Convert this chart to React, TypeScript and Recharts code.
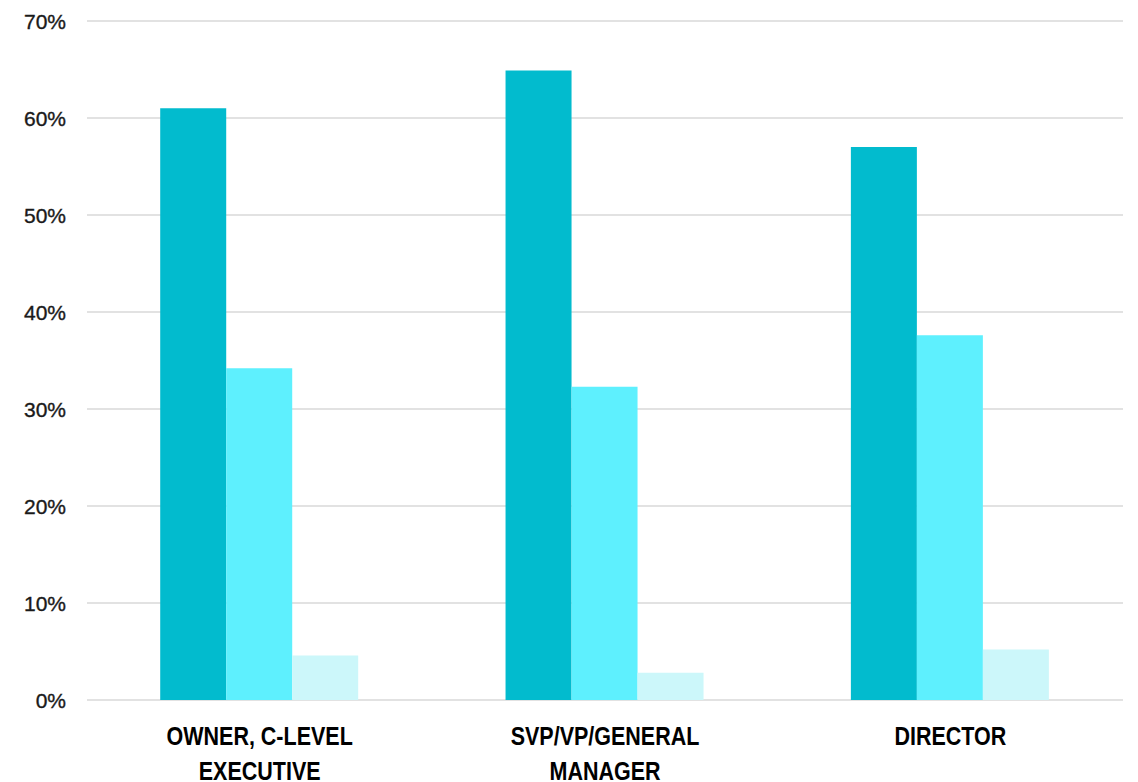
import { BarChart, Bar, XAxis, YAxis, CartesianGrid } from 'recharts'

const categories = ['OWNER, C-LEVEL\nEXECUTIVE', 'SVP/VP/GENERAL\nMANAGER', 'DIRECTOR']
const seriesA = [61, 64.9, 57]
const seriesB = [34.2, 32.3, 37.6]
const seriesC = [4.6, 2.8, 5.2]
const yTicks = [0, 10, 20, 30, 40, 50, 60, 70]

const data = categories.map((name, i) => ({
  name,
  a: seriesA[i],
  b: seriesB[i],
  c: seriesC[i],
}))

// condensed bold look: squeeze a regular bold face horizontally
function CategoryTick({ x, y, payload }: any) {
  const lines = String(payload.value).split('\n')
  return (
    <g transform={`translate(${x},${y}) scale(0.86,1)`}>
      <text
        x={0}
        y={0}
        textAnchor="middle"
        fill="#000"
        fontFamily="'Liberation Sans', Arial, sans-serif"
        fontWeight="bold"
        fontSize={25}
      >
        {lines.map((line, i) => (
          <tspan key={i} x={0} dy={i === 0 ? 45 : 35}>
            {line}
          </tspan>
        ))}
      </text>
    </g>
  )
}

function PercentTick({ x, y, payload }: any) {
  return (
    <text
      x={x}
      y={y}
      dy={7.5}
      textAnchor="end"
      fill="#1a1a1a"
      stroke="#1a1a1a"
      strokeWidth={0.35}
      fontFamily="'Liberation Sans', Arial, sans-serif"
      fontSize={21}
    >
      {`${payload.value}%`}
    </text>
  )
}

export default function App() {
  return (
    <div style={{ position: 'absolute', left: 0, top: 0, background: '#fff' }}>
      <BarChart
        width={1138}
        height={782}
        data={data}
        margin={{ top: 21, right: 15, bottom: 0, left: 0 }}
        barCategoryGap="21.2%"
        barGap={0}
      >
        <CartesianGrid vertical={false} stroke="#d9d9d9" strokeWidth={1.5} />
        <XAxis
          dataKey="name"
          axisLine={false}
          tickLine={false}
          tickSize={0}
          tickMargin={0}
          height={82}
          interval={0}
          tick={<CategoryTick />}
        />
        <YAxis
          domain={[0, 70]}
          ticks={yTicks}
          axisLine={false}
          tickLine={false}
          tickSize={0}
          tickMargin={21}
          width={87}
          tick={<PercentTick />}
        />
        <Bar dataKey="a" fill="#02BBCE" isAnimationActive={false} />
        <Bar dataKey="b" fill="#5EF0FE" isAnimationActive={false} />
        <Bar dataKey="c" fill="#CCF7FA" isAnimationActive={false} />
      </BarChart>
    </div>
  )
}
